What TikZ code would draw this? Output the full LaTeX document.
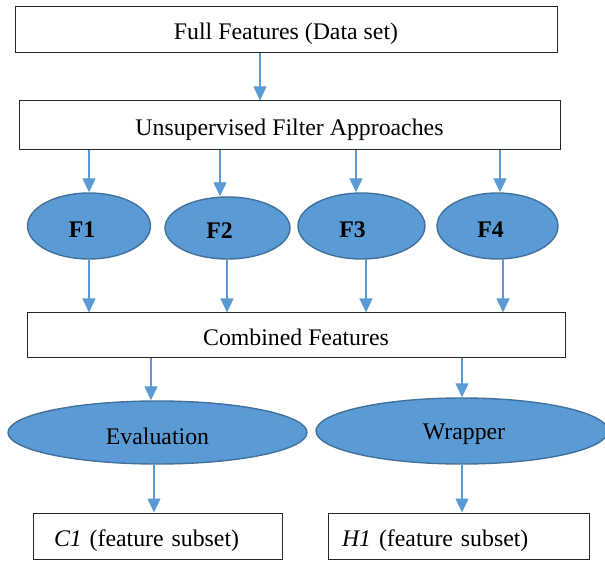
\documentclass[tikz,border=0pt]{standalone}
\usepackage{fontspec}
\setmainfont{Liberation Serif}
\usetikzlibrary{arrows.meta,shapes.geometric}
\definecolor{flowblue}{HTML}{5B9BD5}
\definecolor{rimblue}{HTML}{41719C}
\definecolor{boxline}{HTML}{262626}
\tikzset{
  txt/.style={font=\fontsize{23.8}{28}\selectfont},
  boldtxt/.style={font=\fontsize{23.8}{28}\selectfont\bfseries},
  stepbox/.style={draw=boxline, line width=1pt, fill=white, rectangle, inner sep=0pt,
    text height=26pt, text depth=5pt, txt},
  leftbox/.style={draw=boxline, line width=1pt, fill=white, rectangle, inner ysep=0pt,
    inner xsep=21pt, align=left, text height=25pt, text depth=5pt, txt},
  blob/.style={draw=rimblue, line width=1.4pt, fill=flowblue, ellipse, inner sep=0pt, txt},
  arr/.style={draw=flowblue, line width=1.3pt, -{Triangle[width=13pt,length=14pt]}}
}
\begin{document}
\begin{tikzpicture}[x=1pt,y=-1pt]
\useasboundingbox (0,0) rectangle (605,561);
\begin{scope}
\clip (0,0) rectangle (605,561);

% rows of boxes
\node[stepbox, minimum width=542pt, minimum height=46pt] (full) at (286,29.5) {Full Features (Data set)};
\node[stepbox, minimum width=541pt, minimum height=49pt] (unsup) at (289.5,125.5) {Unsupervised Filter Approaches};

% filter outputs
\node[blob, minimum width=123pt, minimum height=66pt] (F1) at (89,226) {};
\node[blob, minimum width=125pt, minimum height=62pt] (F2) at (227.5,228) {};
\node[blob, minimum width=127pt, minimum height=66pt] (F3) at (361.5,226) {};
\node[blob, minimum width=121pt, minimum height=66pt] (F4) at (497.5,226) {};
\node[boldtxt] (F1t) at ([xshift=-7pt,yshift=-4pt]F1.center) {F1};
\node[boldtxt] (F2t) at ([xshift=-8pt,yshift=-3pt]F2.center) {F2};
\node[boldtxt] (F3t) at ([xshift=-9pt,yshift=-4pt]F3.center) {F3};
\node[boldtxt] (F4t) at ([xshift=-7pt,yshift=-4pt]F4.center) {F4};

\node[stepbox, minimum width=538pt, minimum height=44pt] (comb) at (296,335) {Combined Features};

% second stage
\node[blob, minimum width=299pt, minimum height=63pt] (eval) at (157.5,432.5) {};
\node[blob, minimum width=292pt, minimum height=66pt] (wrap) at (462,431) {};
\node[txt] (evalt) at ([yshift=-4pt]eval.center) {Evaluation};
\node[txt] (wrapt) at ([xshift=2pt,yshift=-3pt]wrap.center) {Wrapper};

% results
\node[leftbox, text width=207pt, minimum height=46pt] (c1) at (157.5,536) {\textit{C1} (feature subset)};
\node[leftbox, text width=219pt, minimum height=46pt] (h1) at (458.5,536) {\hspace*{-7pt}\textit{H1} (feature subset)};

% connectors
\draw[arr] (full.south -| 260,0) -- (unsup.north -| 260,0);

\draw[arr] (unsup.south -| F1.north) -- (F1.north);
\draw[arr] ([xshift=-7.5pt]unsup.south -| F2.north) -- ([xshift=-7.5pt]F2.north);
\draw[arr] ([xshift=-5.5pt]unsup.south -| F3.north) -- ([xshift=-5.5pt]F3.north);
\draw[arr] ([xshift=2.5pt]unsup.south -| F4.north) -- ([xshift=2.5pt]F4.north);

\draw[arr] (F1.south) -- (comb.north -| F1.south);
\draw[arr] ([xshift=-0.5pt]F2.south) -- ([xshift=-0.5pt]comb.north -| F2.south);
\draw[arr] ([xshift=4.5pt]F3.south) -- ([xshift=4.5pt]comb.north -| F3.south);
\draw[arr] ([xshift=5.5pt]F4.south) -- ([xshift=5.5pt]comb.north -| F4.south);

\draw[arr] ([xshift=-6.5pt]comb.south -| eval.north) -- ([xshift=-6.5pt]eval.north);
\draw[arr] (comb.south -| wrap.north) -- (wrap.north);

\draw[arr] ([xshift=-3.5pt]eval.south) -- ([xshift=-3.5pt]c1.north -| eval.south);
\draw[arr] (wrap.south) -- (h1.north -| wrap.south);
\end{scope}
\end{tikzpicture}
\end{document}
